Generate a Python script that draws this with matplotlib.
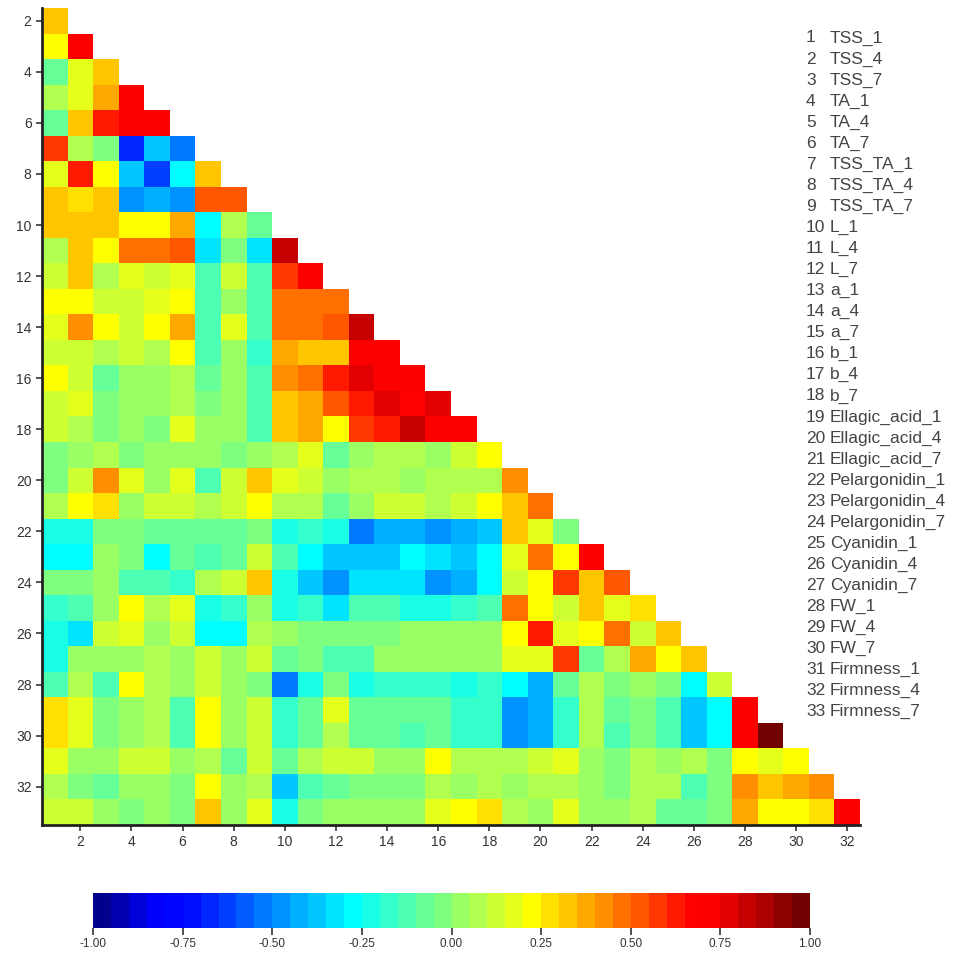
import numpy as np
import matplotlib
matplotlib.use("Agg")
import matplotlib.pyplot as plt
from matplotlib.colors import ListedColormap, BoundaryNorm, LinearSegmentedColormap

plt.rcParams['font.family'] = ['Liberation Sans', 'DejaVu Sans']

# variable names (legend on the right)
names = ['TSS_1', 'TSS_4', 'TSS_7', 'TA_1', 'TA_4', 'TA_7',
         'TSS_TA_1', 'TSS_TA_4', 'TSS_TA_7', 'L_1', 'L_4', 'L_7',
         'a_1', 'a_4', 'a_7', 'b_1', 'b_4', 'b_7',
         'Ellagic_acid_1', 'Ellagic_acid_4', 'Ellagic_acid_7',
         'Pelargonidin_1', 'Pelargonidin_4', 'Pelargonidin_7',
         'Cyanidin_1', 'Cyanidin_4', 'Cyanidin_7',
         'FW_1', 'FW_4', 'FW_7', 'Firmness_1', 'Firmness_4', 'Firmness_7']

# lower triangle correlations, row i holds columns 1..i-1
r2 = [0.30]
r3 = [0.22, 0.70]
r4 = [-0.10, 0.15, 0.30]
r5 = [0.07, 0.15, 0.38, 0.70]
r6 = [-0.10, 0.33, 0.62, 0.70, 0.70]
r7 = [0.55, 0.07, -0.05, -0.68, -0.37, -0.55]
r8 = [0.15, 0.62, 0.22, -0.37, -0.62, -0.27, 0.32]
r9 = [0.30, 0.27, 0.30, -0.48, -0.42, -0.50, 0.52, 0.52]
r10 = [0.30, 0.30, 0.30, 0.22, 0.22, 0.38, -0.27, 0.07, -0.10]
r11 = [0.07, 0.30, 0.22, 0.45, 0.45, 0.50, -0.32, -0.02, -0.32, 0.82]
r12 = [0.12, 0.32, 0.07, 0.15, 0.12, 0.15, -0.12, 0.12, -0.12, 0.55, 0.70]
r13 = [0.22, 0.22, 0.12, 0.12, 0.15, 0.22, -0.12, 0.02, -0.12, 0.45, 0.48, 0.48]
r14 = [0.15, 0.40, 0.22, 0.12, 0.22, 0.35, -0.12, 0.15, -0.12, 0.48, 0.48, 0.52, 0.82]
r15 = [0.12, 0.12, 0.07, 0.12, 0.07, 0.22, -0.12, 0.02, -0.17, 0.37, 0.30, 0.30, 0.70, 0.70]
r16 = [0.22, 0.12, -0.08, 0.02, 0.02, 0.07, -0.08, 0.02, -0.12, 0.42, 0.45, 0.62, 0.77, 0.72, 0.70]
r17 = [0.12, 0.15, -0.02, 0.02, 0.02, 0.07, -0.05, 0.02, -0.12, 0.32, 0.35, 0.52, 0.62, 0.77, 0.65, 0.77]
r18 = [0.12, 0.07, -0.02, 0.02, -0.02, 0.15, 0.02, 0.02, -0.12, 0.30, 0.35, 0.22, 0.58, 0.60, 0.82, 0.72, 0.72]
r19 = [-0.05, 0.02, 0.07, -0.02, 0.02, 0.03, 0.02, -0.02, 0.02, 0.07, 0.15, -0.08, 0.02, 0.07, 0.07, 0.03,
       0.12, 0.22]
r20 = [-0.02, 0.12, 0.40, 0.15, 0.02, 0.15, -0.12, 0.12, 0.30, 0.15, 0.12, 0.02, 0.07, 0.07, 0.02, 0.07,
       0.07, 0.07, 0.40]
r21 = [0.07, 0.22, 0.27, 0.02, 0.12, 0.12, 0.07, 0.12, 0.22, 0.07, 0.07, -0.08, 0.02, 0.12, 0.12, 0.07,
       0.12, 0.22, 0.32, 0.48]
r22 = [-0.22, -0.22, -0.02, -0.02, -0.10, -0.08, -0.10, -0.08, -0.02, -0.22, -0.17, -0.22, -0.55, -0.42, -0.42, -0.48,
       -0.45, -0.37, 0.32, 0.15, -0.05]
r23 = [-0.27, -0.27, 0.02, -0.02, -0.27, -0.08, -0.12, -0.08, 0.12, -0.12, -0.27, -0.38, -0.38, -0.38, -0.27, -0.35,
       -0.40, -0.27, 0.15, 0.48, 0.22, 0.70]
r24 = [-0.05, -0.02, 0.02, -0.12, -0.12, -0.17, 0.07, 0.12, 0.30, -0.22, -0.38, -0.50, -0.35, -0.32, -0.32, -0.48,
       -0.45, -0.27, 0.12, 0.22, 0.58, 0.30, 0.50]
r25 = [-0.17, -0.12, 0.02, 0.22, 0.07, 0.15, -0.22, -0.17, 0.02, -0.22, -0.17, -0.35, -0.15, -0.15, -0.22, -0.22,
       -0.17, -0.12, 0.48, 0.22, 0.12, 0.30, 0.15, 0.28]
r26 = [-0.22, -0.35, 0.12, 0.15, 0.02, 0.12, -0.27, -0.27, 0.07, 0.02, -0.02, -0.05, -0.05, -0.05, 0.02, 0.02,
       0.02, 0.02, 0.22, 0.62, 0.15, 0.22, 0.48, 0.12, 0.30]
r27 = [-0.22, 0.02, 0.02, 0.02, 0.07, 0.02, 0.12, 0.02, 0.12, -0.08, -0.02, -0.12, -0.12, 0.02, 0.02, 0.02,
       0.02, 0.02, 0.15, 0.15, 0.55, -0.08, 0.07, 0.35, 0.22, 0.32]
r28 = [-0.12, 0.07, -0.12, 0.22, 0.07, 0.02, 0.12, 0.02, -0.02, -0.55, -0.22, -0.02, -0.22, -0.17, -0.17, -0.20,
       -0.22, -0.20, -0.27, -0.42, -0.08, 0.07, -0.02, 0.02, -0.02, -0.27, 0.12]
r29 = [0.28, 0.15, -0.02, 0.02, 0.07, -0.12, 0.22, 0.02, 0.12, -0.17, -0.10, 0.15, -0.08, -0.08, -0.10, -0.08,
       -0.20, -0.20, -0.50, -0.42, -0.20, 0.07, -0.08, -0.02, -0.12, -0.37, -0.27, 0.72]
r30 = [0.28, 0.15, -0.02, 0.02, 0.07, -0.12, 0.22, 0.02, 0.12, -0.17, -0.10, 0.07, -0.08, -0.08, -0.12, -0.08,
       -0.20, -0.20, -0.50, -0.42, -0.20, 0.07, -0.12, -0.02, -0.12, -0.37, -0.27, 0.72, 0.95]
r31 = [0.15, 0.02, 0.02, 0.12, 0.12, 0.02, 0.07, -0.08, 0.12, -0.08, 0.07, 0.12, 0.12, 0.02, 0.02, 0.22,
       0.07, 0.07, 0.07, 0.12, 0.15, 0.02, -0.02, 0.07, 0.02, 0.07, -0.02, 0.22, 0.15, 0.22]
r32 = [0.07, -0.02, -0.08, 0.02, 0.02, -0.02, 0.22, 0.02, 0.07, -0.37, -0.15, -0.10, -0.02, -0.02, -0.02, 0.07,
       0.02, 0.07, 0.02, 0.07, 0.07, 0.02, -0.02, 0.07, 0.07, -0.12, -0.02, 0.42, 0.30, 0.35, 0.42]
r33 = [0.12, 0.12, 0.02, -0.05, 0.02, -0.02, 0.33, 0.03, 0.15, -0.22, -0.02, 0.02, 0.03, 0.02, 0.03, 0.15,
       0.22, 0.28, 0.07, 0.02, 0.15, 0.02, 0.02, 0.07, -0.08, -0.08, -0.02, 0.38, 0.22, 0.22, 0.28, 0.70]

rows = [r2, r3, r4, r5, r6, r7, r8, r9, r10, r11, r12, r13, r14, r15, r16, r17,
        r18, r19, r20, r21, r22, r23, r24, r25, r26, r27, r28, r29, r30, r31, r32, r33]

# build 32x32 grid (rows 2..33, cols 1..32), mask above the diagonal
grid = np.full((32, 32), np.nan)
for k, r in enumerate(rows):
    grid[k, :len(r)] = r
grid = np.ma.masked_invalid(grid)

# 40-step jet-like colormap, anchors taken from the colour bar
anchors = [(0 / 39, (0.0, 0.0, 0.55)),
           (3 / 39, (0.0, 0.0, 1.0)),
           (5 / 39, (0.0, 0.05, 1.0)),
           (14 / 39, (0.0, 1.0, 1.0)),
           (19 / 39, (0.5, 1.0, 0.5)),
           (24 / 39, (1.0, 1.0, 0.0)),
           (33 / 39, (1.0, 0.0, 0.0)),
           (34 / 39, (1.0, 0.0, 0.0)),
           (39 / 39, (0.45, 0.0, 0.0))]
base = LinearSegmentedColormap.from_list('refjet', anchors)
cmap = ListedColormap(base(np.linspace(0, 1, 40)))
levels = np.round(np.linspace(-1, 1, 41), 2)
norm = BoundaryNorm(levels, cmap.N)

fig = plt.figure(figsize=(9.63, 9.66), dpi=100)
ax = fig.add_axes([0.0436, 0.146, 0.8495, 0.8457])

xe = np.arange(0.5, 33.0, 1.0)
ye = np.arange(1.5, 34.0, 1.0)
mesh = ax.pcolormesh(xe, ye, grid, cmap=cmap, norm=norm)
ax.set_xlim(0.5, 32.5)
ax.set_ylim(33.5, 1.5)

ax.set_xticks(range(2, 33, 2))
ax.set_yticks(range(2, 33, 2))
ax.tick_params(labelsize=10, colors='#333333', length=4, width=1.2)
for s in ['top', 'right']:
    ax.spines[s].set_visible(False)
for s in ['left', 'bottom']:
    ax.spines[s].set_linewidth(2)
    ax.spines[s].set_color('#222222')

# legend listing the variables
for i, nm in enumerate(names):
    y = 0.9607 - i * 0.0218
    fig.text(0.837, y, str(i + 1), fontsize=12.5, color='#444444', va='center')
    fig.text(0.862, y, nm, fontsize=12.5, color='#444444', va='center')

cax = fig.add_axes([0.0966, 0.0393, 0.7446, 0.0362])
ticks = [-1, -0.75, -0.5, -0.25, 0, 0.25, 0.5, 0.75, 1]
cb = fig.colorbar(mesh, cax=cax, orientation='horizontal', ticks=ticks)
cb.ax.set_xticklabels(['%.2f' % t for t in ticks])
cb.ax.minorticks_off()
cb.ax.tick_params(labelsize=8.5, colors='#333333', length=5, width=1.2, pad=2)
cb.outline.set_visible(False)

fig.savefig('out.png', dpi=100)
